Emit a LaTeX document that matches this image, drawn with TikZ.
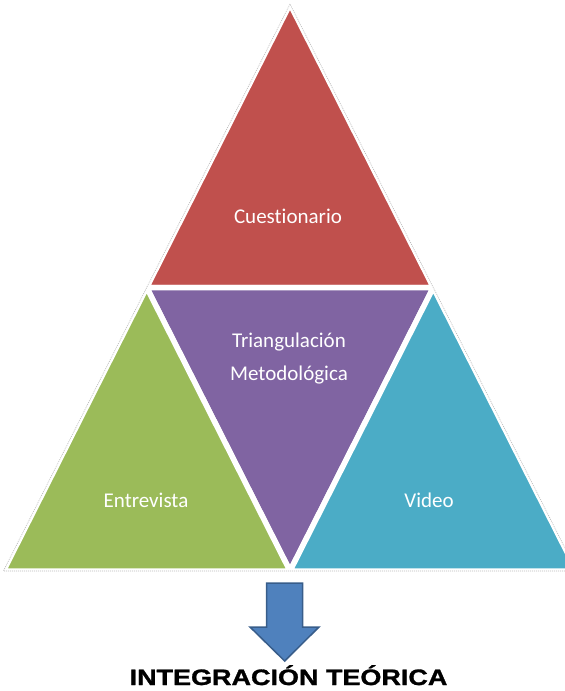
\documentclass[tikz,border=0pt]{standalone}
\usepackage{fontspec}
\setmainfont{Carlito}[Ligatures=NoCommon]
\newfontfamily\titlefont[FakeStretch=1.21,FakeBold=1.3]{Liberation Sans Bold}
\definecolor{cuestred}{HTML}{C0504D}
\definecolor{triangpurple}{HTML}{8064A2}
\definecolor{entrevgreen}{HTML}{9BBB59}
\definecolor{videoblue}{HTML}{4BACC6}
\definecolor{arrowblue}{HTML}{4F81BD}
\definecolor{arrowedge}{HTML}{385D8A}

\begin{document}
\begin{tikzpicture}[x=1pt,y=-1pt]
\useasboundingbox (0,0) rectangle (565,691);
\begin{scope}
	\tikzstyle{every node}=[text=white, font=\fontsize{21}{33}\selectfont, align=center]
	\tikzstyle{tri}=[draw=white, line width=5.5pt, line join=miter]
	\clip (0,0) rectangle (565,691);
	\coordinate (top) at (290,4);
	\coordinate (bl) at (3.4,571);
	\coordinate (br) at (576.6,571);
	\coordinate (ml) at (146.7,287.5);
	\coordinate (mr) at (433.3,287.5);
	\coordinate (mb) at (290,571);
	
	\path[tri, fill=cuestred] (top) -- (ml) -- (mr) -- cycle;
	\path[tri, fill=triangpurple] (ml) -- (mr) -- (mb) -- cycle;
	\path[tri, fill=entrevgreen] (ml) -- (mb) -- (bl) -- cycle;
	\path[tri, fill=videoblue] (mr) -- (br) -- (mb) -- cycle;
	\draw[gray!55, line width=0.6pt, dash pattern=on 1pt off 1pt] (top) -- (bl) -- (br) -- cycle;
	
	\node[anchor=base] (cuest) at (288,223) {Cuestionario};
	\node[anchor=base] (triang) at (289,380) {Triangulación\\Metodológica};
	\node[anchor=base] (entrev) at (146,507) {Entrevista};
	\node[anchor=base] (video) at (429,507) {Video};
\end{scope}

% flecha hacia la integracion
\draw[fill=arrowblue, draw=arrowedge, line width=1.5pt, line join=miter]
	(266.7,583) -- (302.7,583) -- (302.7,627) -- (319,627) -- (284.7,661)
	-- (250,627) -- (266.7,627) -- cycle;
\node[anchor=base, text=black, font=\titlefont\fontsize{22.3}{26}\selectfont] (integ) at (288.5,685) {INTEGRACIÓN TEÓRICA};
\end{tikzpicture}
\end{document}
